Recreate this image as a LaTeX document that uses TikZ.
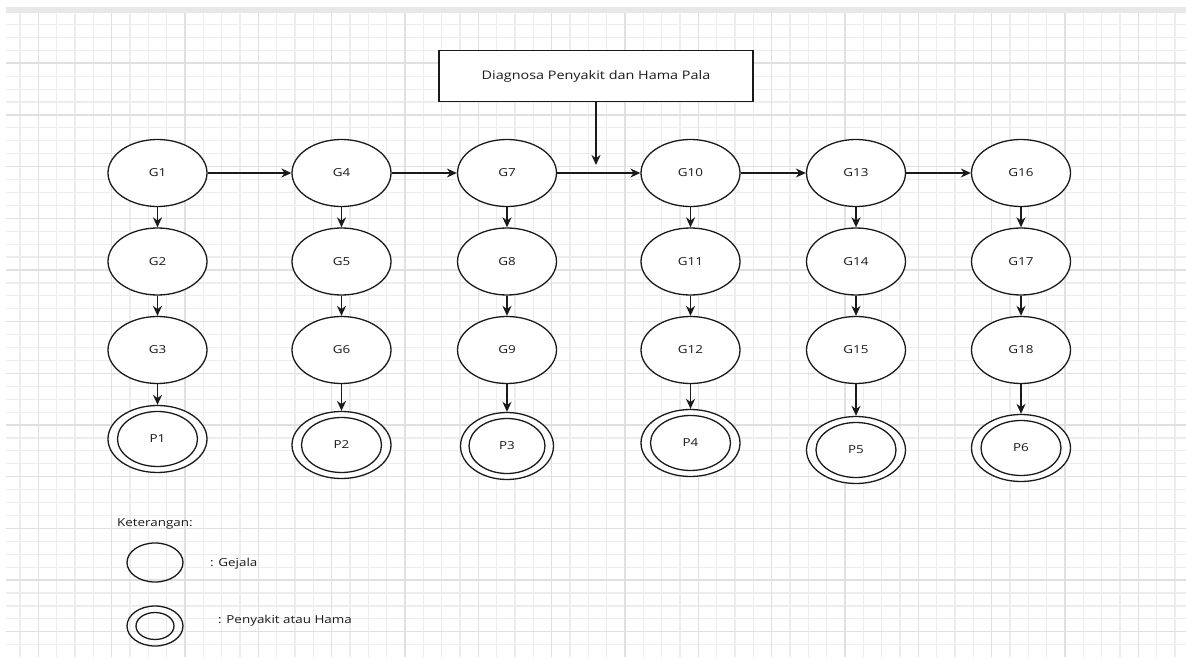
\documentclass[tikz,border=0pt]{standalone}
\usepackage{fontspec}
\setmainfont[FakeStretch=1.22]{Open Sans}
\usetikzlibrary{shapes.geometric,arrows.meta}
\definecolor{gridminor}{HTML}{EDEDED}
\definecolor{gridmajor}{HTML}{E0E0E0}
\definecolor{band}{HTML}{E8E8E8}
\definecolor{ink}{HTML}{1A1A1A}
\begin{document}
\begin{tikzpicture}[x=1pt,y=-1pt,
  txt/.style={font=\fontsize{11}{13}\selectfont, text=ink},
  gej/.style={ellipse, draw=ink, line width=1.3pt, fill=white, minimum width=99pt, minimum height=67pt, inner sep=0pt, txt},
  penout/.style={ellipse, draw=ink, line width=1.3pt, fill=white, minimum width=99pt, minimum height=67pt, inner sep=0pt},
  penin/.style={ellipse, draw=ink, line width=1.3pt, minimum width=80pt, minimum height=55pt, inner sep=0pt, txt},
  harr/.style={draw=ink, line width=1.3pt, -{Stealth[length=10pt,width=9pt]}},
  varr/.style={draw=ink, line width=1.8pt, -{Stealth[length=10pt,width=9pt]}},
  lbl/.style={txt, anchor=west, inner sep=0pt},
  titlebox/.style={draw=ink, line width=1.3pt, fill=white, minimum width=314pt, minimum height=51pt, inner sep=0pt, font=\fontsize{11.8}{14}\selectfont, text=ink}
]
\useasboundingbox (0,0) rectangle (1186,660);
\fill[white] (0,0) rectangle (1186,660);
\fill[band] (6,7.5) rectangle (1186,13.5);
\begin{scope}
\clip (6,13.5) rectangle (1186,656);
\foreach \i in {0,...,64} \draw[gridminor, line width=1.2pt] ({1.67+18.333*\i},13.5) -- ++(0,643);
\foreach \j in {1,...,49} \draw[gridminor, line width=1.2pt] (6,{11.6+12.92*\j}) -- ++(1180,0);
\foreach \i in {0,...,15} \draw[gridmajor, line width=1.6pt] ({38.33+73.333*\i},13.5) -- ++(0,643);
\foreach \j in {0,...,11} \draw[gridmajor, line width=1.6pt] (6,{63.3+51.67*\j}) -- ++(1180,0);
\end{scope}

% title
\node[titlebox] (title) at (596,76.3) {Diagnosa Penyakit dan Hama Pala};
\coordinate (tip) at (596,165);
\draw[varr, line width=1.5pt] (title.south) -- (tip);

% symptom nodes
\node[gej] (G1) at (157.5,173) {G1};
\node[gej] (G2) at (157.5,261.5) {G2};
\node[gej] (G3) at (157.5,350) {G3};
\node[gej] (G4) at (341.5,173) {G4};
\node[gej] (G5) at (341.5,261.5) {G5};
\node[gej] (G6) at (341.5,350) {G6};
\node[gej] (G7) at (507,173) {G7};
\node[gej] (G8) at (507,261.5) {G8};
\node[gej] (G9) at (507,350) {G9};
\node[gej] (G10) at (690.5,173) {G10};
\node[gej] (G11) at (690.5,261.5) {G11};
\node[gej] (G12) at (690.5,350) {G12};
\node[gej] (G13) at (856,173) {G13};
\node[gej] (G14) at (856,261.5) {G14};
\node[gej] (G15) at (856,350) {G15};
\node[gej] (G16) at (1021,173) {G16};
\node[gej] (G17) at (1021,261.5) {G17};
\node[gej] (G18) at (1021,350) {G18};

% disease nodes
\node[penout] (P1) at (157.5,439) {};
\node[penin] (P1in) at (P1.center) {P1};
\node[penout] (P2) at (341.5,445) {};
\node[penin] (P2in) at (P2.center) {P2};
\node[penout, minimum width=93pt] (P3) at (507,446) {};
\node[penin, minimum width=76pt] (P3in) at (P3.center) {P3};
\node[penout] (P4) at (690.5,443) {};
\node[penin] (P4in) at (P4.center) {P4};
\node[penout] (P5) at (856,450) {};
\node[penin] (P5in) at (P5.center) {P5};
\node[penout] (P6) at (1021,448) {};
\node[penin] (P6in) at (P6.center) {P6};

% horizontal connectors
\draw[harr] (G1) -- (G4);
\draw[harr] (G4) -- (G7);
\draw[harr] (G7) -- (G10);
\draw[harr] (G10) -- (G13);
\draw[harr] (G13) -- (G16);

% vertical connectors
\draw[varr] (G1) -- (G2);
\draw[varr] (G2) -- (G3);
\draw[varr] (G3) -- (P1);
\draw[varr] (G4) -- (G5);
\draw[varr] (G5) -- (G6);
\draw[varr] (G6) -- (P2);
\draw[varr] (G7) -- (G8);
\draw[varr] (G8) -- (G9);
\draw[varr] (G9) -- (P3);
\draw[varr] (G10) -- (G11);
\draw[varr] (G11) -- (G12);
\draw[varr] (G12) -- (P4);
\draw[varr] (G13) -- (G14);
\draw[varr] (G14) -- (G15);
\draw[varr] (G15) -- (P5);
\draw[varr] (G16) -- (G17);
\draw[varr] (G17) -- (G18);
\draw[varr] (G18) -- (P6);

% legend
\node[lbl] (ket) at (117,524) {Keterangan:};
\node[ellipse, draw=ink, line width=1.3pt, minimum width=56pt, minimum height=39pt, inner sep=0pt] (lg) at (155,562.5) {};
\node[lbl] (lgt) at (210,564) {: Gejala};
\node[ellipse, draw=ink, line width=1.3pt, minimum width=56pt, minimum height=40pt, inner sep=0pt] (lp) at (155,626) {};
\node[ellipse, draw=ink, line width=1.3pt, minimum width=38pt, minimum height=27pt, inner sep=0pt] (lpi) at (lp.center) {};
\node[lbl] (lpt) at (218,621) {: Penyakit atau Hama};
\end{tikzpicture}
\end{document}
